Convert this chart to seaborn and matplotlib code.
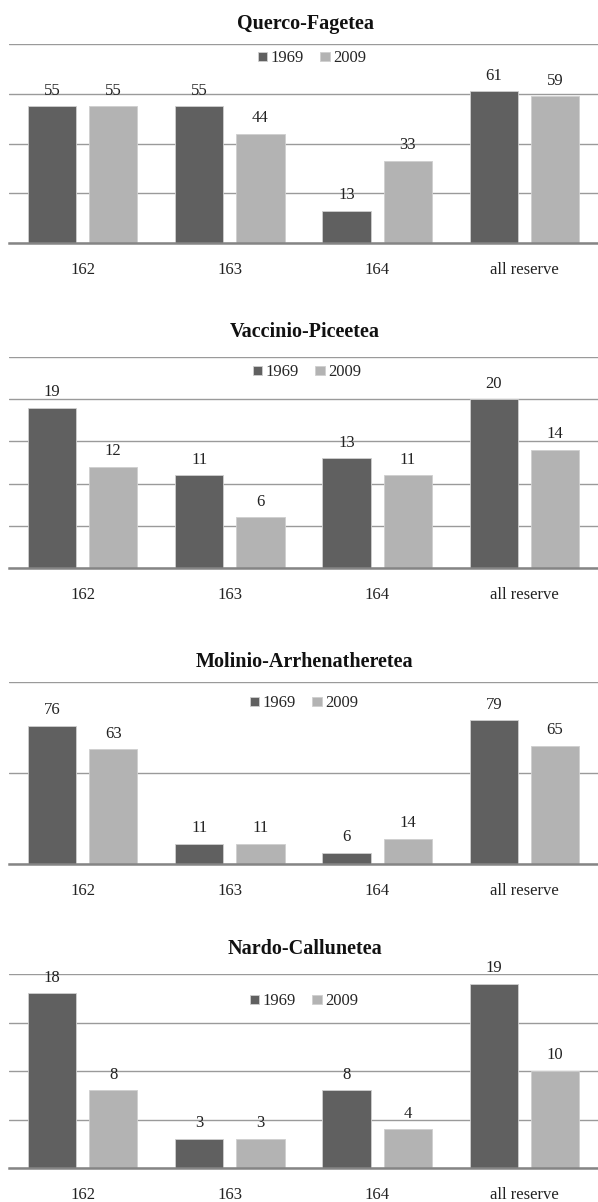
import pandas as pd
import matplotlib.pyplot as plt
import seaborn as sns

# data
sites = ['162', '163', '164', 'all reserve']
years = ['1969', '2009']

titles = ['Querco-Fagetea', 'Vaccinio-Piceetea', 'Molinio-Arrhenatheretea', 'Nardo-Callunetea']
vals_1969 = [
    [55, 55, 13, 61],
    [19, 11, 13, 20],
    [76, 11, 6, 79],
    [18, 3, 8, 19],
]
vals_2009 = [
    [55, 44, 33, 59],
    [12, 6, 11, 14],
    [63, 11, 14, 65],
    [8, 3, 4, 10],
]
y_max = [80, 25, 100, 20]
y_step = [20, 5, 50, 5]

# layout in pixels (top line, baseline, title y, legend y, legend x)
H = 1202
W = 598
panels_px = [
    (44, 243, 24, 58, 312),
    (357, 568, 332, 372, 307),
    (682, 864, 662, 703, 304),
    (974, 1168, 949, 1001, 304),
]

sns.set_style('white')
plt.rcParams['font.family'] = ['Liberation Serif', 'DejaVu Serif']

palette = {'1969': '#606060', '2009': '#b3b3b3'}
grid_col = '#9a9a9a'
fs = 12

fig = plt.figure(figsize=(W / 100, H / 100), dpi=100)

for i, title in enumerate(titles):
    top, base, ty, ly, lx = panels_px[i]
    left = 9
    ax = fig.add_axes([left / W, 1 - base / H, 1 - left / W, (base - top) / H])

    df = pd.DataFrame({
        'site': sites * 2,
        'year': [years[0]] * 4 + [years[1]] * 4,
        'value': vals_1969[i] + vals_2009[i],
    })
    sns.barplot(data=df, x='site', y='value', hue='year', palette=palette,
                width=0.83, gap=0.21, edgecolor='#cfcfcf', linewidth=0.6,
                ax=ax)

    for c in ax.containers:
        ax.bar_label(c, fmt='%d', padding=5.5, fontsize=fs, color='#222222')

    ax.set_ylim(0, y_max[i])
    ax.set_xlim(-0.5, 3.5)
    ax.set_yticks(range(0, y_max[i] + 1, y_step[i]))
    ax.yaxis.grid(True, color=grid_col, linewidth=1.0)
    ax.set_axisbelow(True)
    ax.tick_params(axis='y', left=False, labelleft=False)
    ax.tick_params(axis='x', length=0, pad=14, labelsize=fs, labelcolor='#222222')
    ax.set_xlabel('')
    ax.set_ylabel('')
    for s in ['top', 'left', 'right']:
        ax.spines[s].set_visible(False)
    ax.spines['bottom'].set_color('#858585')
    ax.spines['bottom'].set_linewidth(1.8)

    handles, labels = ax.get_legend_handles_labels()
    ax.legend(handles, labels, loc='center', ncol=2, frameon=False,
              bbox_to_anchor=((lx - left) / (W - left), (base - ly) / (base - top)),
              fontsize=fs, handlelength=0.55, handleheight=0.45,
              handletextpad=0.2, columnspacing=1.0, borderaxespad=0)

    fig.text(305 / W, 1 - ty / H, title, ha='center', va='center',
             fontsize=14.5, fontweight='bold', color='#111111')

fig.savefig('out.png', dpi=100)
